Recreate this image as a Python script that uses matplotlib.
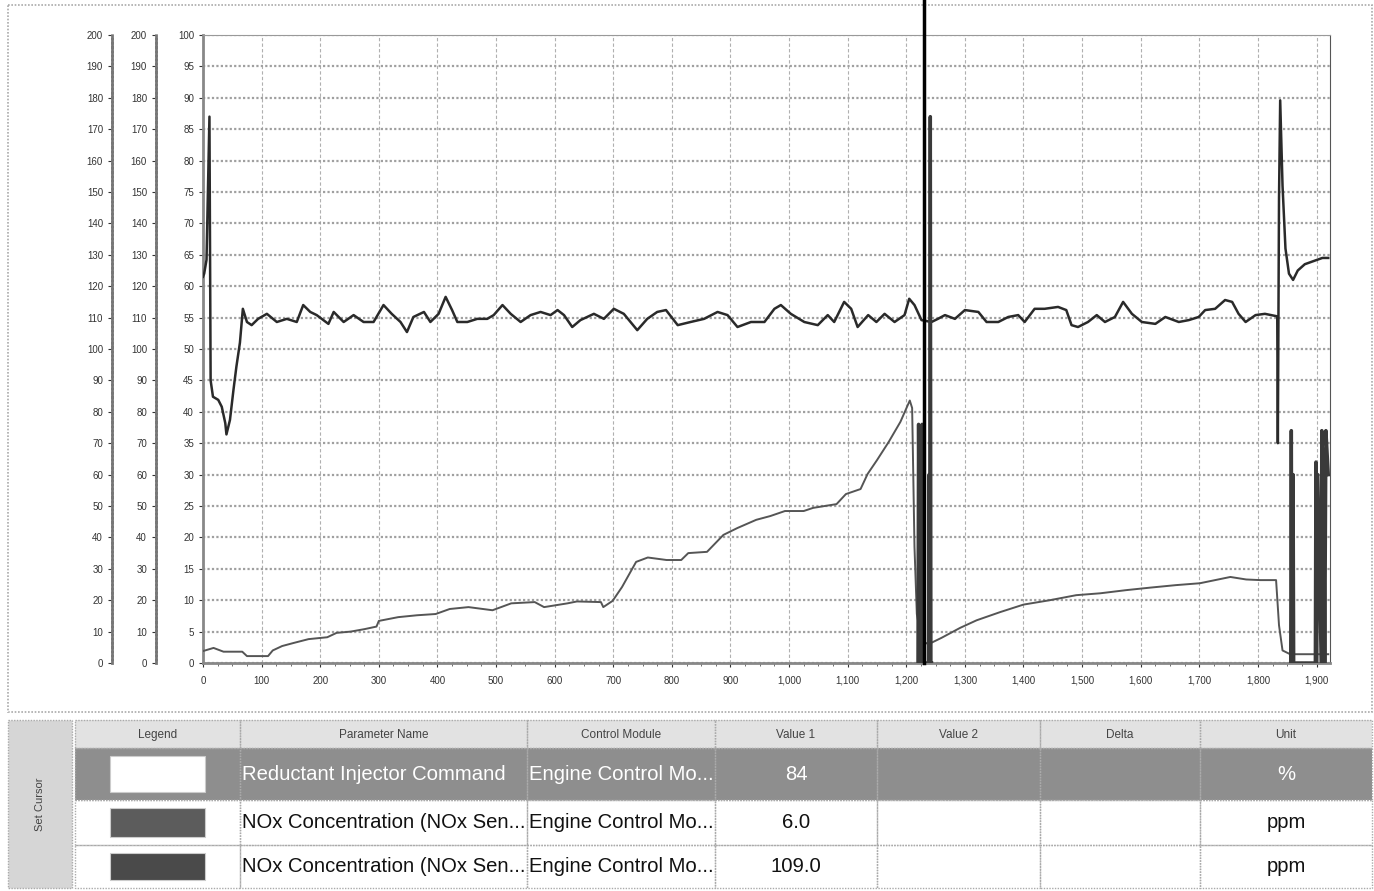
import matplotlib.pyplot as plt
from matplotlib.patches import Rectangle
from matplotlib.ticker import AutoMinorLocator

plt.rcParams['font.family'] = ['Liberation Sans', 'DejaVu Sans']

nan = float('nan')

# --- chart data (time on x, value on the 0-100 main scale) ---
upper_x = [0, 2, 6, 11, 13, 17, 26, 32, 38, 40, 46, 52, 57, 63, 68, 75, 83, 94, 109, 126,
           143, 160, 171, 183, 194, 214, 223, 240, 257, 274, 291, 308, 322, 337, 348, 359,
           377, 388, 402, 414, 425, 434, 451, 468, 485, 496, 511, 525, 542, 559, 576, 593,
           605, 616, 630, 644, 667, 684, 701, 718, 741, 758, 775, 790, 810, 832, 855, 878,
           895, 912, 935, 958, 975, 986, 1003, 1026, 1049, 1066, 1077, 1094, 1106, 1117,
           1135, 1149, 1163, 1180, 1197, 1205, 1214, 1226, 1243, 1254, 1266, 1283, 1300,
           1323, 1337, 1357, 1374, 1391, 1402, 1419, 1436, 1459, 1473, 1482, 1493, 1510,
           1525, 1539, 1556, 1570, 1585, 1602, 1625, 1642, 1665, 1682, 1699, 1710, 1727,
           1744, 1756, 1767, 1779, 1796, 1812, 1833, 1834, 1836, 1838, 1842, 1847, 1853,
           1860, 1868, 1880, 1895, 1910, 1920]
upper_y = [61.5, 62, 64.2, 87, 45, 42.4, 41.9, 40.8, 38.2, 36.4, 38.7, 43.5, 47.2, 51, 56.4,
           54.3, 53.8, 54.8, 55.6, 54.3, 54.8, 54.3, 57.0, 55.9, 55.4, 54.0, 55.9, 54.3, 55.4,
           54.3, 54.3, 57.0, 55.6, 54.3, 52.7, 55.1, 55.9, 54.3, 55.6, 58.3, 56.2, 54.3, 54.3,
           54.8, 54.8, 55.4, 57.0, 55.6, 54.3, 55.4, 55.9, 55.4, 56.2, 55.4, 53.5, 54.6, 55.6,
           54.8, 56.4, 55.6, 53.0, 54.8, 55.9, 56.2, 53.8, 54.3, 54.8, 55.9, 55.4, 53.5, 54.3,
           54.3, 56.4, 57.0, 55.6, 54.3, 53.8, 55.4, 54.3, 57.5, 56.4, 53.5, 55.4, 54.3, 55.6,
           54.3, 55.4, 58.0, 57.0, 54.6, 54.3, 54.8, 55.4, 54.8, 56.2, 55.9, 54.3, 54.3, 55.1,
           55.4, 54.3, 56.4, 56.4, 56.7, 56.2, 53.8, 53.5, 54.3, 55.4, 54.3, 55.1, 57.5, 55.6,
           54.3, 54.0, 55.1, 54.3, 54.6, 55.1, 56.2, 56.4, 57.8, 57.5, 55.6, 54.3, 55.4, 55.6,
           55.2, 35, 74, 89.6, 76, 66, 62, 61, 62.5, 63.5, 64, 64.5, 64.5]

lower_x = [0, 18, 35, 67, 75, 111, 119, 135, 155, 180, 212, 228, 252, 276, 296, 300, 333,
           365, 397, 421, 453, 494, 526, 566, 582, 622, 638, 679, 683, 699, 715, 739, 759,
           791, 816, 828, 860, 888, 912, 944, 968, 993, 1025, 1041, 1081, 1097, 1122, 1134,
           1150, 1170, 1190, 1206, 1210, 1214, 1218, 1226, 1238, 1260, 1292, 1320, 1360,
           1400, 1445, 1490, 1531, 1575, 1616, 1660, 1701, 1753, 1780, 1804, 1831, 1836,
           1842, 1855, 1920]
lower_y = [1.9, 2.4, 1.8, 1.8, 1.1, 1.1, 2.0, 2.7, 3.2, 3.8, 4.1, 4.8, 5.0, 5.4, 5.8, 6.7,
           7.3, 7.6, 7.8, 8.6, 8.9, 8.4, 9.5, 9.7, 8.9, 9.5, 9.8, 9.7, 8.9, 9.9, 12.1, 16.1,
           16.8, 16.4, 16.4, 17.5, 17.7, 20.4, 21.5, 22.8, 23.4, 24.2, 24.2, 24.7, 25.3,
           26.9, 27.7, 30.1, 32.3, 35.2, 38.4, 41.8, 40.6, 18.5, 7.8, 3.5, 3.0, 4.0, 5.6,
           6.8, 8.1, 9.3, 10.0, 10.8, 11.1, 11.6, 12.0, 12.4, 12.7, 13.7, 13.3, 13.2, 13.2,
           6, 2, 1.4, 1.4]

# injector command bursts (gap between them, baseline sits on the axis)
cmd_x = [1220, 1221, 1223, 1224, 1226, 1227, 1229, 1238, 1239, 1240, 1241, 1242, 1243,
         1500,
         1856, 1857, 1858, 1860, 1861, 1898, 1899, 1900, 1902, 1908, 1909, 1910, 1912, 1914,
         1916, 1920]
cmd_y = [0, 38, 0, 37, 0, 38, 0, 0, 30, 0, 87, 0, 0,
         nan,
         0, 37, 0, 30, 0, 0, 32, 0, 30, 0, 37, 0, 34, 0, 37, 30]

cursor_x = 1230

x_ticks = list(range(0, 2000, 100))
main_ticks = list(range(0, 101, 5))
ppm_ticks = list(range(0, 201, 10))

# --- table data ---
table_columns = ["Legend", "Parameter Name", "Control Module", "Value 1", "Value 2", "Delta", "Unit"]
legend_colors = ["#ffffff", "#5c5c5c", "#4a4a4a"]
param_names = ["Reductant Injector Command", "NOx Concentration (NOx Sen...",
               "NOx Concentration (NOx Sen..."]
control_modules = ["Engine Control Mo...", "Engine Control Mo...", "Engine Control Mo..."]
value1 = ["84", "6.0", "109.0"]
value2 = ["", "", ""]
delta = ["", "", ""]
units = ["%", "ppm", "ppm"]

W, H = 1374, 891
fig = plt.figure(figsize=(W / 100, H / 100), dpi=100)

# overlay in pixel coordinates for frame + table
bg = fig.add_axes([0, 0, 1, 1])
bg.set_xlim(0, W)
bg.set_ylim(H, 0)
bg.axis('off')
bg.add_patch(Rectangle((8, 5), 1364, 707, fill=False, ec='#aaaaaa', lw=1.2, ls=(0, (1, 1))))

# chart
ax = fig.add_axes([203 / W, 1 - 663 / H, (1330 - 203) / W, (663 - 35) / H])
ax.plot(lower_x, lower_y, color='#555555', lw=1.4, zorder=3)
ax.plot(upper_x, upper_y, color='#2a2a2a', lw=1.8, zorder=4)
ax.plot(cmd_x, cmd_y, color='#3a3a3a', lw=2.5, zorder=5)
ax.plot([cursor_x, cursor_x], [0, 105.6], color='black', lw=2.5, clip_on=False, zorder=6)

ax.set_xlim(0, 1923)
ax.set_ylim(0, 100)
ax.set_xticks(x_ticks)
ax.set_xticklabels([f"{v:,}" for v in x_ticks])
ax.set_yticks(main_ticks)
ax.xaxis.set_minor_locator(AutoMinorLocator(4))
ax.tick_params(labelsize=7, colors='#333333', length=3)
ax.tick_params(which='minor', length=2, colors='#555555')
ax.tick_params(axis='x', pad=6)
ax.grid(axis='y', color='#a0a0a0', lw=1.6, ls=(0, (1, 1)))
ax.grid(axis='x', color='#b0b0b0', lw=0.8, ls=(0, (3, 2)))
for side in ['left', 'bottom']:
    ax.spines[side].set_color('#888888')
    ax.spines[side].set_linewidth(2)
ax.spines['top'].set_color('#999999')
ax.spines['top'].set_linestyle((0, (1, 1)))
ax.spines['right'].set_color('#555555')

# two extra ppm scales on the left
for pos in [-0.0807, -0.0417]:
    tw = ax.twinx()
    tw.spines['left'].set_position(('axes', pos))
    tw.spines['left'].set_visible(True)
    tw.spines['left'].set_color('#777777')
    tw.spines['left'].set_linewidth(2)
    tw.spines['left'].set_linestyle((0, (1, 0.5)))
    for side in ['right', 'top', 'bottom']:
        tw.spines[side].set_visible(False)
    tw.yaxis.set_ticks_position('left')
    tw.yaxis.set_label_position('left')
    tw.set_ylim(0, 200)
    tw.set_yticks(ppm_ticks)
    tw.tick_params(labelsize=7, colors='#333333', length=3)

# table
col_edges = [75, 240, 527, 715, 877, 1040, 1200, 1372]
row_edges = [720, 748, 800, 845, 888]
bg.add_patch(Rectangle((8, 720), 64, 168, fc='#d6d6d6', ec='#aaaaaa', lw=1, ls=(0, (1, 1))))
bg.text(40, 804, "Set Cursor", rotation=90, ha='center', va='center', fontsize=8, color='#444444')
bg.add_patch(Rectangle((75, 720), 1297, 28, fc='#e2e2e2', ec='none'))
bg.add_patch(Rectangle((75, 748), 1297, 52, fc='#8e8e8e', ec='none'))
for i in range(len(col_edges) - 1):
    for j in range(len(row_edges) - 1):
        bg.add_patch(Rectangle((col_edges[i], row_edges[j]), col_edges[i + 1] - col_edges[i],
                               row_edges[j + 1] - row_edges[j], fill=False, ec='#aaaaaa',
                               lw=1, ls=(0, (1, 1))))
for i, name in enumerate(table_columns):
    bg.text((col_edges[i] + col_edges[i + 1]) / 2, 735, name, ha='center', va='center',
            fontsize=8.5, color='#444444')

rows = list(zip(legend_colors, param_names, control_modules, value1, value2, delta, units))
for j, (lc, pname, cmod, v1, v2, dl, un) in enumerate(rows):
    top, bot = row_edges[j + 1], row_edges[j + 2]
    yc = (top + bot) / 2
    tc = 'white' if j == 0 else '#111111'
    bg.add_patch(Rectangle((110, top + 8), 95, bot - top - 16, fc=lc, ec='#cccccc', lw=0.8))
    bg.text(col_edges[1] + 2, yc, pname, ha='left', va='center', fontsize=14.6, color=tc)
    bg.text(col_edges[2] + 2, yc, cmod, ha='left', va='center', fontsize=14.6, color=tc)
    for k, val in zip([3, 4, 5, 6], [v1, v2, dl, un]):
        bg.text((col_edges[k] + col_edges[k + 1]) / 2, yc, val, ha='center', va='center',
                fontsize=14.6, color=tc)

fig.savefig('out.png', dpi=100)
